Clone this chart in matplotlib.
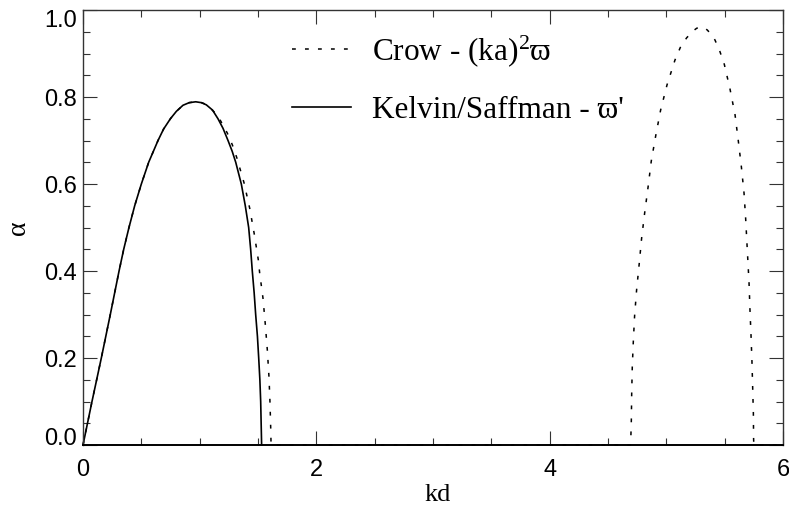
import matplotlib
matplotlib.use('Agg')
import matplotlib.pyplot as plt
from matplotlib.ticker import MultipleLocator

# Kelvin/Saffman growth rate (solid)
kelvin_kd = [0.0, 0.077, 0.157, 0.234, 0.309, 0.349, 0.394, 0.443, 0.50, 0.563,
             0.643, 0.69, 0.749, 0.80, 0.857, 0.91, 0.966, 1.015, 1.057, 1.11,
             1.157, 1.20, 1.243, 1.279, 1.309, 1.357, 1.391, 1.42, 1.437, 1.451,
             1.467, 1.48, 1.495, 1.506, 1.516, 1.523, 1.531]
kelvin_alpha = [0.0, 0.10, 0.20, 0.30, 0.40, 0.45, 0.50, 0.55, 0.60, 0.65,
                0.70, 0.726, 0.75, 0.767, 0.781, 0.787, 0.789, 0.787, 0.782, 0.770,
                0.75, 0.728, 0.70, 0.675, 0.65, 0.60, 0.55, 0.50, 0.45, 0.40,
                0.35, 0.30, 0.25, 0.20, 0.15, 0.10, 0.0]

# Crow growth rate (dashed), long-wave and short-wave bands
crow_kd = [0.0, 0.077, 0.157, 0.234, 0.309, 0.349, 0.394, 0.443, 0.50, 0.563,
           0.643, 0.69, 0.749, 0.80, 0.857, 0.91, 0.966, 1.015, 1.057, 1.123,
           1.18, 1.237, 1.28, 1.32, 1.38, 1.429, 1.468, 1.503, 1.514, 1.543,
           1.563, 1.58, 1.594, 1.603, 1.609, 1.612,
           4.694, 4.70, 4.703, 4.708, 4.717, 4.728, 4.745, 4.768, 4.788, 4.814,
           4.843, 4.871, 4.909, 4.951, 5.006, 5.074, 5.12, 5.174, 5.23, 5.26,
           5.289, 5.32, 5.351, 5.385, 5.417, 5.46, 5.497, 5.546, 5.589, 5.617,
           5.643, 5.666, 5.68, 5.697, 5.709, 5.717, 5.726, 5.734, 5.74, 5.746,
           5.748, 5.75, 6.0]
crow_alpha = [0.0, 0.10, 0.20, 0.30, 0.40, 0.45, 0.50, 0.55, 0.60, 0.65,
              0.70, 0.726, 0.75, 0.767, 0.781, 0.787, 0.789, 0.787, 0.783, 0.766,
              0.745, 0.717, 0.690, 0.659, 0.603, 0.544, 0.485, 0.425, 0.396, 0.337,
              0.276, 0.218, 0.157, 0.096, 0.038, 0.0,
              0.0, 0.057, 0.117, 0.179, 0.238, 0.297, 0.356, 0.418, 0.475, 0.533,
              0.592, 0.653, 0.711, 0.770, 0.828, 0.885, 0.914, 0.936, 0.952, 0.958,
              0.961, 0.960, 0.954, 0.944, 0.931, 0.904, 0.875, 0.818, 0.759, 0.699,
              0.64, 0.579, 0.52, 0.433, 0.372, 0.31, 0.251, 0.191, 0.132, 0.073,
              0.014, 0.0, 0.0]

crow_label = 'Crow - (ka)$^{2}$\u03d6'
kelvin_label = "Kelvin/Saffman - \u03d6'"

SERIF = ['Liberation Serif', 'DejaVu Serif']
plt.rcParams['font.family'] = ['Liberation Sans', 'DejaVu Sans']
plt.rcParams['mathtext.fontset'] = 'custom'
plt.rcParams['mathtext.rm'] = 'Liberation Serif'
plt.rcParams['mathtext.it'] = 'Liberation Serif:italic'
plt.rcParams['mathtext.default'] = 'rm'

fig = plt.figure(figsize=(7.89, 5.08), dpi=100)
ax = fig.add_axes([0.1052, 0.124, 0.8872, 0.8563])

dash = (0, (2.5, 6.0))
ax.plot(crow_kd, crow_alpha, color='black', lw=1.1, linestyle=dash,
        clip_on=False, label=crow_label)
ax.plot(kelvin_kd, kelvin_alpha, color='black', lw=1.2, clip_on=False,
        label=kelvin_label)

ax.set_xlim(0, 6)
ax.set_ylim(0, 1.0)
ax.set_xticks([0, 2, 4, 6])
ax.set_yticks([0.0, 0.2, 0.4, 0.6, 0.8, 1.0])
ax.set_xticklabels(['0', '2', '4', '6'])
ax.set_yticklabels(['0.0', '0.2', '0.4', '0.6', '0.8', '1.0'])
ax.xaxis.set_minor_locator(MultipleLocator(0.5))
ax.yaxis.set_minor_locator(MultipleLocator(0.05))

ax.tick_params(which='both', direction='in', top=True, right=True,
               width=0.8, color='#333333')
ax.tick_params(which='major', length=10)
ax.tick_params(which='minor', length=5)
ax.tick_params(axis='x', which='major', labelsize=17, pad=10)
ax.tick_params(axis='y', which='major', labelsize=17, pad=4.5)
for s in ax.spines.values():
    s.set_linewidth(1.0)
    s.set_color('#333333')
ax.spines['bottom'].set_linewidth(1.4)
ax.spines['bottom'].set_color('black')

# end labels sit inside the axis range
yt = ax.yaxis.get_major_ticks()
yt[0].label1.set_va('baseline')
yt[-1].label1.set_va('top')

ax.set_xlabel('kd', fontsize=19, family=SERIF)
ax.xaxis.set_label_coords(0.507, -0.09)
ax.set_ylabel('\u03b1', fontsize=20, family=SERIF)
ax.yaxis.set_label_coords(-0.075, 0.5)

ax.legend(loc='upper left', bbox_to_anchor=(0.2986, 0.947), frameon=False,
          prop={'family': SERIF, 'size': 22.5}, handlelength=1.9,
          handletextpad=0.65, labelspacing=0.88, borderpad=0, borderaxespad=0)

fig.savefig('out.png', dpi=100)
